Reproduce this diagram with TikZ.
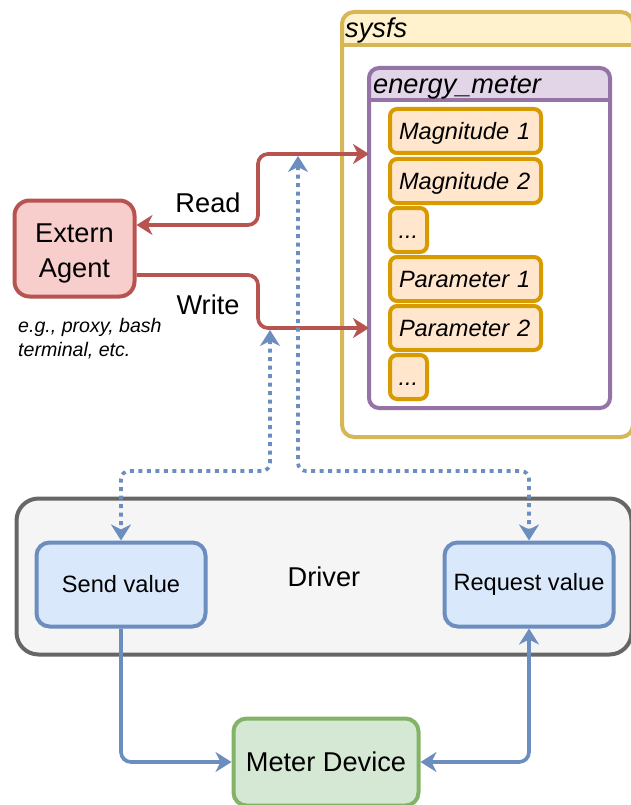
\documentclass[tikz,border=0pt]{standalone}
\usepackage{fontspec}
\setmainfont{Liberation Sans}
\usetikzlibrary{arrows.meta,calc}
\definecolor{yfill}{HTML}{FFF2CC}\definecolor{yline}{HTML}{D6B656}
\definecolor{pfill}{HTML}{E1D5E7}\definecolor{pline}{HTML}{9673A6}
\definecolor{ofill}{HTML}{FFE6CC}\definecolor{oline}{HTML}{D79B00}
\definecolor{rfill}{HTML}{F8CECC}\definecolor{rline}{HTML}{B85450}
\definecolor{gfill}{HTML}{F5F5F5}\definecolor{gline}{HTML}{666666}
\definecolor{bfill}{HTML}{DAE8FC}\definecolor{bline}{HTML}{6C8EBF}
\definecolor{nfill}{HTML}{D5E8D4}\definecolor{nline}{HTML}{82B366}
\newcommand{\bigfont}{\fontsize{27.2}{35}\selectfont}
\newcommand{\midfont}{\fontsize{23.6}{28}\selectfont}
\newcommand{\smallfont}{\fontsize{19.6}{24}\selectfont}
\tikzset{
  lw/.style={line width=4pt},
  container/.style={rectangle, rounded corners=#1, outer sep=0pt, inner sep=0pt, fill=white},
  itembox/.style={rectangle, draw=oline, fill=ofill, lw, rounded corners=7pt, outer sep=0pt,
    minimum height=44pt, inner xsep=9pt, inner ysep=0pt, text height=17pt, text depth=0pt,
    align=left, font=\midfont\itshape},
  shapebox/.style={rectangle, lw, align=center},
  dtip/.tip={Stealth[length=16pt,width=20pt,inset=5pt]},
  redconn/.style={draw=rline, line width=3.7pt, rounded corners=10pt},
  blueconn/.style={draw=bline, line width=3.7pt, rounded corners=10pt},
  bluedots/.style={draw=bline, line width=3.7pt, rounded corners=8pt, dash pattern=on 4pt off 4.5pt},
}
\begin{document}
\begin{tikzpicture}[x=1pt,y=-1pt]
\useasboundingbox (0,0) rectangle (631,805);
\clip (0,0) rectangle (631,805);

% sysfs container
\node[container=12pt, minimum width=291pt, minimum height=425pt] (sysfs) at (487.5,224.5) {};
\begin{scope}
  \clip (330,0) rectangle (640,45);
  \fill[yfill, rounded corners=12pt] (sysfs.north west) rectangle (sysfs.south east);
\end{scope}
\draw[yline, lw] (sysfs.west |- 0,45) -- (sysfs.east |- 0,45);
\draw[yline, lw, rounded corners=12pt] (sysfs.north west) rectangle (sysfs.south east);
\node[anchor=base west, font=\bigfont\itshape, inner sep=0pt] (sysfslbl) at (345,38) {sysfs};

% energy_meter container
\node[container=10pt, minimum width=241pt, minimum height=340pt] (em) at (489.5,238) {};
\begin{scope}
  \clip (360,60) rectangle (620,100);
  \fill[pfill, rounded corners=10pt] (em.north west) rectangle (em.south east);
\end{scope}
\draw[pline, lw] (em.west |- 0,100) -- (em.east |- 0,100);
\draw[pline, lw, rounded corners=10pt] (em.north west) rectangle (em.south east);
\node[anchor=base west, font=\bigfont\itshape, inner sep=0pt] (emlbl) at (373,94) {energy\_meter};

% items
\node[itembox, text width=133pt, anchor=north west] (mag1) at (390,109) {Magnitude 1};
\node[itembox, text width=133pt, anchor=north west] (mag2) at (390,159) {Magnitude 2};
\node[itembox, text width=20pt, inner xsep=8.5pt, anchor=north west] (dots1) at (390,208) {...};
\node[itembox, text width=133pt, anchor=north west] (par1) at (390,257) {Parameter 1};
\node[itembox, text width=133pt, anchor=north west] (par2) at (390,306) {Parameter 2};
\node[itembox, text width=20pt, inner xsep=8.5pt, anchor=north west] (dots2) at (390,355) {...};

% extern agent
\node[shapebox, draw=rline, fill=rfill, rounded corners=15pt, minimum width=120pt, minimum height=96pt,
  font=\bigfont] (agent) at (74.5,248.5) {\rule{0pt}{27.7pt}Extern\\Agent};
\node[anchor=north west, align=left, inner sep=0pt, font=\smallfont\itshape] (caption) at (18,318) {e.g., proxy, bash\\terminal, etc.};

% driver
\node[shapebox, draw=gline, fill=gfill, rounded corners=22pt, minimum width=615pt, minimum height=156pt,
  font=\bigfont] (driver) at (324,576.5) {Driver};
\node[shapebox, draw=bline, fill=bfill, rounded corners=13pt, minimum width=169pt, minimum height=84pt,
  font=\midfont] (send) at (121,584.5) {Send value};
\node[shapebox, draw=bline, fill=bfill, rounded corners=13pt, minimum width=169pt, minimum height=84pt,
  font=\midfont] (req) at (529,584.5) {Request value};
\node[shapebox, draw=nline, fill=nfill, rounded corners=13pt, minimum width=185pt, minimum height=87pt,
  font=\bigfont] (meter) at (326,762) {Meter Device};

% red connectors
\draw[redconn, {dtip}-{dtip}] (agent.east |- 0,225) -- (258,225) -- (258,154) -- (em.west |- 0,154);
\node[anchor=base, font=\bigfont, inner sep=0pt] (readlbl) at (208,212) {Read};
\draw[redconn, -{dtip}] (agent.east |- 0,275) -- (258,275) -- (258,328) -- (em.west |- 0,328);
\node[anchor=base, font=\bigfont, inner sep=0pt] (writelbl) at (208,314) {Write};

% dotted blue
\coordinate (readtip) at (298,156);
\coordinate (writetip) at (270,330);
\draw[bluedots, {dtip}-{dtip}] (writetip) -- (270,471) -| (send.north);
\draw[bluedots, {dtip}-{dtip}] (readtip) -- (298,471) -| (req.north);

% solid blue
\draw[blueconn, -{dtip}] (send.south) |- (meter.west);
\draw[blueconn, {dtip}-{dtip}] (meter.east) -| (req.south);
\end{tikzpicture}
\end{document}
